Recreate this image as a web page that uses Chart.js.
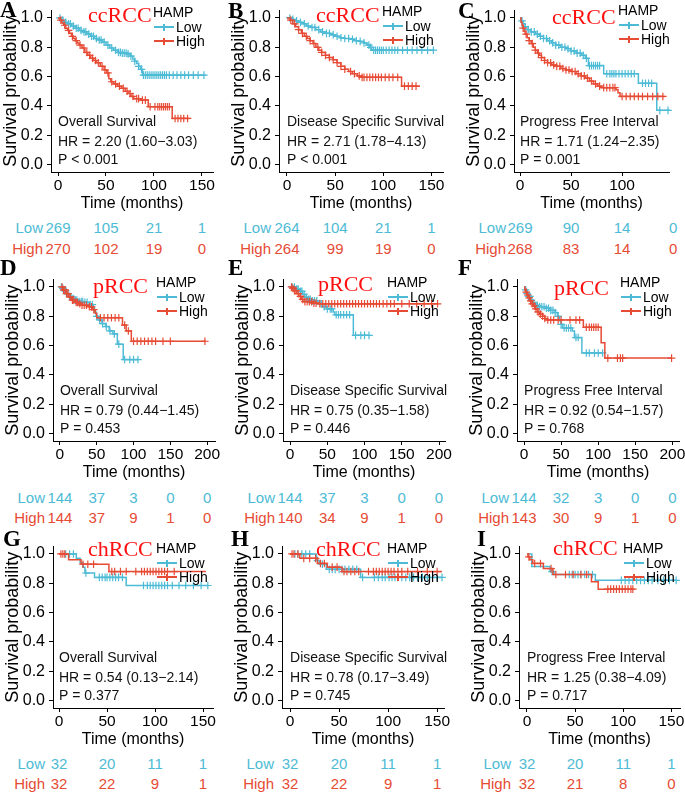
<!DOCTYPE html>
<html>
<head>
<meta charset="utf-8">
<script src="https://cdn.jsdelivr.net/npm/chart.js@4.4.1/dist/chart.umd.min.js"></script>
<style>
body{margin:0;background:#fff;width:685px;height:792px;position:relative;overflow:hidden;font-family:"Liberation Sans",Arial,sans-serif}
canvas{position:absolute}
.t{position:absolute;white-space:nowrap;line-height:1}
.ln{position:absolute}
</style>
</head>
<body>
<script>
const BLUE = '#4DBBD5', RED = '#E64B35';
const SANS = '"Liberation Sans", Arial, sans-serif';
const SERIF = '"Liberation Serif", "Times New Roman", serif';

// ---------- data ----------
const groups = ['Low', 'High'];
const yTicks = [0, 0.2, 0.4, 0.6, 0.8, 1.0];
const noteY = [0.29, 0.155, 0.03];
const xTicks150 = [0, 50, 100, 150];
const xTicks100 = [0, 50, 100];
const xTicks200 = [0, 50, 100, 150, 200];
const riskT1 = [0, 50, 100, 150];
const riskT2 = [0, 50, 100, 150, 200];
const riskT3 = [0, 50, 100, 150];

// A  ccRCC overall survival  [time, survival]
const A_low = [[0,1],[3,0.985],[6,0.97],[10,0.96],[14,0.945],[18,0.93],[22,0.915],[26,0.905],[30,0.89],[34,0.875],[38,0.86],[42,0.85],[46,0.835],[50,0.815],[54,0.795],[58,0.78],[62,0.765],[66,0.76],[72,0.755],[75,0.74],[78,0.72],[80,0.705],[82,0.69],[84,0.67],[86,0.65],[88,0.61],[154,0.61]];
const A_lowCens = [2,5,8,11,13,16,19,21,24,27,29,32,35,37,40,43,45,48,52,56,60,63,65,67,69,71,73,76,80,84,87,89,91,93,95,97,99,101,103,105,107,109,111,113,116,120,124,128,132,136,141,146,152];
const A_high = [[0,1],[2,0.985],[4,0.965],[6,0.95],[8,0.93],[10,0.915],[12,0.895],[14,0.875],[16,0.86],[18,0.845],[20,0.83],[22,0.815],[25,0.795],[28,0.765],[31,0.745],[34,0.725],[37,0.71],[40,0.695],[44,0.67],[48,0.645],[51,0.625],[53,0.585],[55,0.565],[58,0.55],[62,0.535],[66,0.52],[70,0.5],[73,0.485],[76,0.465],[79,0.45],[86,0.44],[94,0.395],[119,0.315],[137,0.315]];
const A_highCens = [3,7,11,15,19,23,27,30,33,36,39,42,46,49,52,56,60,64,68,72,75,78,82,84,88,91,96,101,104,106,108,110,112,114,116,122,125,128,131,135];
const A_notes = ['Overall Survival', 'HR = 2.20 (1.60\u22123.03)', 'P < 0.001'];
const A_riskLow = [269, 105, 21, 1];
const A_riskHigh = [270, 102, 19, 0];

// B  ccRCC disease specific survival
const B_low = [[0,1],[4,0.99],[8,0.98],[12,0.97],[16,0.96],[20,0.945],[25,0.935],[30,0.92],[35,0.905],[40,0.895],[45,0.885],[50,0.875],[55,0.865],[60,0.86],[66,0.855],[70,0.845],[76,0.84],[80,0.83],[83,0.815],[86,0.8],[88,0.78],[153,0.78]];
const B_lowCens = [3,6,10,14,18,22,26,29,33,37,41,44,48,52,56,60,64,68,72,76,80,85,87,90,92,94,96,98,100,103,106,109,112,115,120,125,130,135,140,146,152];
const B_high = [[0,1],[3,0.985],[6,0.96],[9,0.94],[12,0.92],[15,0.895],[18,0.875],[21,0.86],[24,0.845],[27,0.825],[30,0.8],[33,0.78],[36,0.765],[40,0.745],[44,0.73],[48,0.715],[52,0.695],[56,0.67],[60,0.65],[64,0.635],[68,0.62],[73,0.605],[77,0.595],[119,0.535],[138,0.535]];
const B_highCens = [4,8,12,16,20,24,28,32,36,40,44,48,52,56,60,66,70,75,78,80,83,86,89,92,95,98,102,106,110,115,122,126,130,134];
const B_notes = ['Disease Specific Survival', 'HR = 2.71 (1.78\u22124.13)', 'P < 0.001'];
const B_riskLow = [264, 104, 21, 1];
const B_riskHigh = [264, 99, 19, 0];

// C  ccRCC progress free interval
const C_low = [[0,1],[1,0.98],[3,0.96],[5,0.94],[8,0.92],[11,0.905],[15,0.89],[19,0.875],[23,0.86],[27,0.845],[31,0.83],[35,0.815],[40,0.8],[45,0.79],[50,0.775],[55,0.76],[60,0.745],[64,0.725],[67,0.675],[82,0.62],[116,0.555],[134,0.37],[147,0.37]];
const C_lowCens = [2,5,8,11,14,17,20,23,26,29,32,35,38,41,44,47,50,53,56,59,62,65,68,70,72,74,76,78,85,88,90,92,94,97,100,103,106,109,112,120,123,126,129,137,145];
const C_high = [[0,1],[1,0.97],[2,0.95],[3,0.93],[4,0.91],[5,0.89],[7,0.865],[9,0.845],[11,0.825],[13,0.8],[15,0.78],[17,0.76],[19,0.745],[21,0.73],[24,0.71],[27,0.695],[31,0.68],[35,0.67],[40,0.655],[45,0.645],[50,0.635],[55,0.62],[60,0.605],[64,0.59],[68,0.57],[72,0.55],[76,0.535],[80,0.525],[94,0.51],[96,0.49],[98,0.465],[142,0.465]];
const C_highCens = [3,6,9,12,15,18,21,24,27,30,33,36,39,42,45,48,51,54,57,60,63,66,70,74,78,82,85,88,91,93,100,104,108,112,116,120,125,130,135,140];
const C_notes = ['Progress Free Interval', 'HR = 1.71 (1.24\u22122.35)', 'P = 0.001'];
const C_riskLow = [269, 90, 14, 0];
const C_riskHigh = [268, 83, 14, 0];

// D  pRCC overall survival
const D_low = [[0,1],[3,0.99],[6,0.975],[9,0.955],[12,0.935],[16,0.92],[20,0.91],[26,0.9],[32,0.895],[40,0.88],[45,0.86],[47,0.83],[49,0.8],[52,0.775],[57,0.75],[62,0.73],[67,0.7],[72,0.68],[78,0.61],[86,0.505],[107,0.505]];
const D_lowCens = [2,4,6,8,10,13,15,18,21,23,26,29,31,34,37,41,44,50,54,58,63,68,74,80,88,95,100,106];
const D_high = [[0,1],[4,0.98],[8,0.955],[12,0.93],[16,0.91],[20,0.895],[25,0.885],[30,0.875],[38,0.865],[44,0.845],[48,0.82],[50,0.79],[85,0.74],[90,0.7],[97,0.63],[198,0.63]];
const D_highCens = [3,5,7,9,11,14,17,19,22,24,27,30,33,36,40,43,46,55,60,65,70,75,80,88,93,100,105,110,115,120,125,130,140,150,197];
const D_notes = ['Overall Survival', 'HR = 0.79 (0.44\u22121.45)', 'P = 0.453'];
const D_riskLow = [144, 37, 3, 0, 0];
const D_riskHigh = [144, 37, 9, 1, 0];

// E  pRCC disease specific survival
const E_low = [[0,1],[8,0.985],[13,0.97],[17,0.95],[20,0.93],[24,0.915],[28,0.905],[40,0.885],[43,0.865],[50,0.85],[58,0.83],[60,0.81],[85,0.67],[107,0.67]];
const E_lowCens = [3,6,9,11,14,16,19,22,25,27,30,33,36,42,46,50,54,56,62,65,68,72,76,80,88,95,100,106];
const E_high = [[0,1],[3,0.99],[6,0.975],[9,0.955],[12,0.935],[15,0.915],[19,0.9],[30,0.89],[38,0.885],[199,0.885]];
const E_highCens = [2,4,6,8,11,14,17,20,23,26,29,32,35,40,44,48,52,56,60,64,68,72,76,80,84,88,92,96,100,104,108,112,116,120,125,130,135,140,150,160,170,180,190,198];
const E_notes = ['Disease Specific Survival', 'HR = 0.75 (0.35\u22121.58)', 'P = 0.446'];
const E_riskLow = [144, 37, 3, 0, 0];
const E_riskHigh = [140, 34, 9, 1, 0];

// F  pRCC progress free interval
const F_low = [[0,1],[2,0.98],[4,0.955],[6,0.935],[9,0.91],[12,0.89],[15,0.875],[20,0.865],[28,0.855],[35,0.84],[42,0.825],[45,0.8],[48,0.77],[50,0.745],[52,0.72],[65,0.7],[68,0.655],[78,0.55],[106,0.55]];
const F_lowCens = [2,4,6,8,10,13,16,18,21,24,27,30,33,36,39,42,46,50,54,57,60,63,70,73,84,88,95,100,106];
const F_high = [[0,1],[1,0.98],[2,0.965],[4,0.945],[6,0.925],[8,0.905],[10,0.885],[12,0.87],[15,0.85],[18,0.83],[21,0.815],[25,0.8],[28,0.785],[30,0.775],[80,0.725],[104,0.62],[109,0.515],[199,0.515]];
const F_highCens = [3,5,7,9,11,14,16,19,22,25,28,32,36,40,46,50,62,70,75,84,88,91,94,97,100,113,126,130,133,199];
const F_notes = ['Progress Free Interval', 'HR = 0.92 (0.54\u22121.57)', 'P = 0.768'];
const F_riskLow = [144, 32, 3, 0, 0];
const F_riskHigh = [143, 30, 9, 1, 0];

// G  chRCC overall survival
const G_low = [[0,1],[18,0.97],[22,0.94],[25,0.91],[27,0.87],[37,0.84],[70,0.785],[155,0.785]];
const G_lowCens = [7,11,15,28,42,45,48,50,53,56,59,62,66,88,92,95,98,101,104,107,110,113,118,125,132,140,148,155];
const G_high = [[0,1],[10,0.96],[23,0.93],[52,0.88],[153,0.88]];
const G_highCens = [2,4,6,25,30,36,55,58,64,70,80,86,89,92,95,98,101,104,107,110,113,120];
const G_notes = ['Overall Survival', 'HR = 0.54 (0.13\u22122.14)', 'P = 0.377'];
const G_riskLow = [32, 20, 11, 1];
const G_riskHigh = [32, 22, 9, 1];

// H  chRCC disease specific survival
const H_low = [[0,1],[27,0.955],[30,0.93],[37,0.895],[72,0.84],[155,0.84]];
const H_lowCens = [5,8,12,16,20,28,33,40,43,46,50,53,56,60,64,68,74,86,90,94,97,101,104,107,110,114,118,122,126,130,135,140,150,155];
const H_high = [[0,1],[10,0.97],[28,0.935],[38,0.91],[53,0.88],[155,0.88]];
const H_highCens = [2,4,8,14,20,26,31,35,43,48,55,58,62,66,70,80,85,88,91,94,97,100,103,106,110,114,120,130,140,150];
const H_notes = ['Disease Specific Survival', 'HR = 0.78 (0.17\u22123.49)', 'P = 0.745'];
const H_riskLow = [32, 20, 11, 1];
const H_riskHigh = [32, 22, 9, 1];

// I  chRCC progress free interval
const I_low = [[0,1],[5,0.915],[24,0.88],[28,0.86],[71,0.82],[155,0.82]];
const I_lowCens = [26,44,47,50,53,56,60,64,68,98,102,106,110,114,118,122,126,130,136,142,148,155];
const I_high = [[0,1],[1,0.98],[3,0.96],[6,0.935],[17,0.9],[27,0.86],[67,0.81],[74,0.76],[110,0.76]];
const I_highCens = [2,8,14,25,30,40,48,56,62,84,87,90,93,96,99,102,105,108,110];
const I_notes = ['Progress Free Interval', 'HR = 1.25 (0.38\u22124.09)', 'P = 0.717'];
const I_riskLow = [32, 20, 11, 1];
const I_riskHigh = [32, 21, 8, 0];

// ---------- layout ----------
const rows = [
  {y1: 9, y0: 164, risk: [227, 248]},
  {y1: 278, y0: 433, risk: [497, 517]},
  {y1: 545, y0: 700, risk: [763, 783]}
];

const panels = [
  {id:'A', kind:'ccRCC', row:0, low:A_low, lowC:A_lowCens, high:A_high, highC:A_highCens, notes:A_notes, xt:xTicks150, rt:riskT1, rl:A_riskLow, rh:A_riskHigh,
   axisX:51, right:213, xmin:-7.3, xmax:161.5, letter:[0,17], label:[88,22], hamp:[153,12]},
  {id:'B', kind:'ccRCC', row:0, low:B_low, lowC:B_lowCens, high:B_high, highC:B_highCens, notes:B_notes, xt:xTicks150, rt:riskT1, rl:B_riskLow, rh:B_riskHigh,
   axisX:279, right:443, xmin:-8.3, xmax:162, letter:[228,18], label:[316,22], hamp:[382,11]},
  {id:'C', kind:'ccRCC', row:0, low:C_low, lowC:C_lowCens, high:C_high, highC:C_highCens, notes:C_notes, xt:xTicks100, rt:riskT1, rl:C_riskLow, rh:C_riskHigh,
   axisX:514, right:669, xmin:-5.9, xmax:146, letter:[458,18], label:[552,24], hamp:[618,10]},
  {id:'D', kind:'pRCC', row:1, low:D_low, lowC:D_lowCens, high:D_high, highC:D_highCens, notes:D_notes, xt:xTicks200, rt:riskT2, rl:D_riskLow, rh:D_riskHigh,
   axisX:53, right:215, xmin:-9.4, xmax:210.7, letter:[0,275], label:[93,293], hamp:[156,282]},
  {id:'E', kind:'pRCC', row:1, low:E_low, lowC:E_lowCens, high:E_high, highC:E_highCens, notes:E_notes, xt:xTicks200, rt:riskT2, rl:E_riskLow, rh:E_riskHigh,
   axisX:283, right:445, xmin:-9.4, xmax:208, letter:[228,275], label:[318,291], hamp:[387,282]},
  {id:'F', kind:'pRCC', row:1, low:F_low, lowC:F_lowCens, high:F_high, highC:F_highCens, notes:F_notes, xt:xTicks200, rt:riskT2, rl:F_riskLow, rh:F_riskHigh,
   axisX:517, right:679, xmin:-9.5, xmax:209, letter:[458,275], label:[554,295], hamp:[620,282]},
  {id:'G', kind:'chRCC', row:2, low:G_low, lowC:G_lowCens, high:G_high, highC:G_highCens, notes:G_notes, xt:xTicks150, rt:riskT3, rl:G_riskLow, rh:G_riskHigh,
   axisX:53, right:213, xmin:-6.25, xmax:160.4, letter:[3,546], label:[88,556], hamp:[156,548]},
  {id:'H', kind:'chRCC', row:2, low:H_low, lowC:H_lowCens, high:H_high, highC:H_highCens, notes:H_notes, xt:xTicks150, rt:riskT3, rl:H_riskLow, rh:H_riskHigh,
   axisX:282, right:444, xmin:-8.2, xmax:157, letter:[231,546], label:[316,556], hamp:[387,548]},
  {id:'I', kind:'chRCC', row:2, low:I_low, lowC:I_lowCens, high:I_high, highC:I_highCens, notes:I_notes, xt:xTicks150, rt:riskT3, rl:I_riskLow, rh:I_riskHigh,
   axisX:519, right:680, xmin:-8.3, xmax:159, letter:[477,546], label:[553,555], hamp:[623,548]}
];

// ---------- helpers ----------
function survAt(steps, t) {
  let s = steps[0][1];
  for (const [ti, si] of steps) { if (ti <= t) s = si; }
  return s;
}

function txt(s, x, base, size, opt) {
  opt = opt || {};
  const d = document.createElement('div');
  d.className = 't';
  d.textContent = s;
  d.style.left = x + 'px';
  d.style.top = (base - 0.84 * size) + 'px';
  d.style.fontSize = size + 'px';
  d.style.fontFamily = opt.family || SANS;
  d.style.color = opt.color || '#000';
  if (opt.bold) d.style.fontWeight = 'bold';
  if (opt.align === 'center') d.style.transform = 'translateX(-50%)';
  if (opt.align === 'right') d.style.transform = 'translateX(-100%)';
  document.body.appendChild(d);
  return d;
}

function box(x, y, w, h, color) {
  const d = document.createElement('div');
  d.className = 'ln';
  d.style.left = x + 'px'; d.style.top = y + 'px';
  d.style.width = w + 'px'; d.style.height = h + 'px';
  d.style.background = color;
  document.body.appendChild(d);
}

const notePlugin = {
  id: 'notes',
  afterDatasetsDraw(chart, args, opts) {
    const {ctx, scales: {x, y}} = chart;
    ctx.save();
    ctx.font = '14px ' + SANS;
    ctx.fillStyle = '#111';
    ctx.textBaseline = 'middle';
    ctx.textAlign = 'left';
    opts.lines.forEach((s, i) => ctx.fillText(s, x.getPixelForValue(0), y.getPixelForValue(noteY[i])));
    ctx.restore();
  }
};

function curve(steps, color) {
  return {data: steps.map(([t, s]) => ({x: t, y: s})), showLine: true, stepped: true,
          borderColor: color, borderWidth: 1.5, pointRadius: 0, fill: false, clip: 6};
}
function marks(steps, cens, color) {
  return {data: cens.map(t => ({x: t, y: survAt(steps, t)})), showLine: false,
          pointStyle: 'cross', pointRadius: 3.8, borderColor: color, borderWidth: 1.2,
          backgroundColor: color, clip: 6};
}

function build(p) {
  const r = rows[p.row];
  const unit = r.y0 - r.y1;
  const top = Math.round(r.y1 - 0.05 * unit), bottom = Math.round(r.y0 + 0.05 * unit);
  const cl = p.axisX - 51, ct = top - 4;
  const W = p.right - cl + 8, H = bottom - top + 45;
  const cv = document.createElement('canvas');
  cv.width = W; cv.height = H;
  cv.style.left = cl + 'px'; cv.style.top = ct + 'px';
  cv.style.width = W + 'px'; cv.style.height = H + 'px';
  document.body.appendChild(cv);

  const ch = new Chart(cv, {
    type: 'scatter',
    data: {datasets: [curve(p.high, RED), marks(p.high, p.highC, RED), curve(p.low, BLUE), marks(p.low, p.lowC, BLUE)]},
    options: {
      responsive: false, animation: false, devicePixelRatio: 1, events: [],
      layout: {padding: {top: 4, right: 8, left: 0, bottom: 0}},
      plugins: {legend: {display: false}, tooltip: {enabled: false}, notes: {lines: p.notes}},
      scales: {
        x: {
          type: 'linear', min: p.xmin, max: p.xmax,
          afterBuildTicks: s => { s.ticks = p.xt.map(v => ({value: v})); },
          afterFit: s => { s.height = 41; },
          ticks: {color: '#000', font: {family: SANS, size: 15.5}, padding: 0, maxRotation: 0, autoSkip: false},
          grid: {drawOnChartArea: false, color: '#000', tickLength: 4, lineWidth: 1},
          border: {color: '#000', width: 1},
          title: {display: true, text: 'Time (months)', color: '#000', font: {family: SANS, size: 16}, padding: {top: 0, bottom: 0}}
        },
        y: {
          type: 'linear', min: -0.05, max: 1.05,
          afterBuildTicks: s => { s.ticks = yTicks.map(v => ({value: v})); },
          afterFit: s => { s.width = 51; },
          ticks: {color: '#000', font: {family: SANS, size: 16}, padding: 4, callback: v => v.toFixed(1)},
          grid: {drawOnChartArea: false, color: '#000', tickLength: 4, lineWidth: 1},
          border: {color: '#000', width: 1},
          title: {display: true, text: 'Survival probability', color: '#000', font: {family: SANS, size: 18}, padding: {top: 0, bottom: 0}}
        }
      }
    },
    plugins: [notePlugin]
  });

  // number at risk table
  const xs = ch.scales.x;
  txt(groups[0], p.axisX - 8, r.risk[0] + 5.4, 15, {color: BLUE, align: 'right'});
  txt(groups[1], p.axisX - 8, r.risk[1] + 5.4, 15, {color: RED, align: 'right'});
  p.rt.forEach((t, i) => {
    const px = cl + xs.getPixelForValue(t);
    txt(String(p.rl[i]), px, r.risk[0] + 5.4, 15, {color: BLUE, align: 'center'});
    txt(String(p.rh[i]), px, r.risk[1] + 5.4, 15, {color: RED, align: 'center'});
  });

  // panel letter and subtype label
  txt(p.id, p.letter[0], p.letter[1], 23, {family: SERIF, bold: true});
  txt(p.kind, p.label[0], p.label[1], 22, {family: SERIF, color: '#FF1010'});

  // legend
  const hx = p.hamp[0], hy = p.hamp[1];
  txt('HAMP', hx, hy + 5, 14);
  [[groups[0], BLUE, hy + 15], [groups[1], RED, hy + 29]].forEach(([g, c, cy]) => {
    box(hx + 1, cy - 0.8, 20, 1.6, c);
    box(hx + 10.4, cy - 3.5, 1.2, 7, c);
    txt(g, hx + 23, cy + 5, 14);
  });
}

panels.forEach(build);
</script>
</body>
</html>
